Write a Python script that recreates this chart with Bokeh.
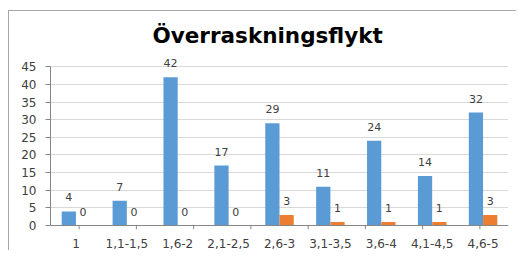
from bokeh.plotting import figure
from bokeh.models import (FactorRange, Range1d, LinearAxis, CategoricalAxis,
                          FixedTicker, ColumnDataSource, Grid, Span)
from bokeh.transform import dodge
from bokeh.core.properties import value
from bokeh.embed import file_html
from bokeh.resources import INLINE

title_text = "Överraskningsflykt"
categories = ["1", "1,1-1,5", "1,6-2", "2,1-2,5", "2,6-3", "3,1-3,5", "3,6-4", "4,1-4,5", "4,6-5"]
series_a = [4, 7, 42, 17, 29, 11, 24, 14, 32]
series_b = [0, 0, 0, 0, 3, 1, 1, 1, 3]
y_ticks = [0, 5, 10, 15, 20, 25, 30, 35, 40, 45]

BLUE = "#5B9BD5"
ORANGE = "#ED7D31"
TXT = "#404040"
AXIS = "#868686"
FONT = "DejaVu Sans"
Y_MIN = -1.13  # small strip below zero that holds the category tick marks

src = ColumnDataSource(dict(
    cat=categories, a=series_a, b=series_b,
    a_s=[str(v) for v in series_a], b_s=[str(v) for v in series_b],
))

# boundary positions between categories (one more than categories)
boundaries = ["b%d" % i for i in range(len(categories) + 1)]
bsrc = ColumnDataSource(dict(bnd=boundaries))

p = figure(
    x_range=FactorRange(*categories, range_padding=0),
    y_range=Range1d(Y_MIN, 49.6),
    frame_width=458, frame_height=179,
    min_border_left=41, min_border_right=8, min_border_top=39, min_border_bottom=4,
    x_axis_location=None, y_axis_location=None,
    output_backend="svg", toolbar_location=None,
    title=title_text,
)
# drop the default grids that figure() creates
p.xgrid.grid_line_color = None
p.ygrid.grid_line_color = None

p.extra_x_ranges = {"b": FactorRange(*boundaries, range_padding=-1.0,
                                     range_padding_units="absolute")}
p.styles = {"margin-left": "8px", "margin-top": "10px",
            "border-top": "1px solid #a6a6a6", "border-left": "1px solid #a6a6a6"}
p.outline_line_color = None
p.title.align = "left"
p.title.offset = 102
p.title.text_font = FONT
p.title.text_font_style = "bold"
p.title.text_font_size = "21.5px"
p.title.text_color = "#000000"
p.title.standoff = 5

yt = FixedTicker(ticks=y_ticks)
yaxis = LinearAxis(ticker=yt, bounds=(0, 45))
yaxis.axis_line_color = AXIS
yaxis.major_tick_line_color = AXIS
yaxis.major_tick_out = 5
yaxis.major_tick_in = 0
yaxis.minor_tick_line_color = None
yaxis.major_label_text_font = FONT
yaxis.major_label_text_font_size = "12px"
yaxis.major_label_text_color = TXT
yaxis.major_label_standoff = 9
p.add_layout(yaxis, "left")
p.add_layout(Grid(dimension=1, ticker=yt, grid_line_color="#d9d9d9", bounds=(0, 45)))

# short tick marks at the category boundaries, below the zero line
p.segment(x0="bnd", x1="bnd", y0=0, y1=Y_MIN, source=bsrc, x_range_name="b",
          line_color=AXIS, line_width=1)
p.add_layout(Span(location=0, dimension="width", line_color=AXIS, line_width=1))

cat_axis = CategoricalAxis()
cat_axis.axis_line_color = None
cat_axis.major_tick_line_color = None
cat_axis.major_tick_out = 0
cat_axis.major_tick_in = 0
cat_axis.minor_tick_line_color = None
cat_axis.major_label_text_font = FONT
cat_axis.major_label_text_font_size = "12px"
cat_axis.major_label_text_color = TXT
cat_axis.major_label_standoff = 9
p.add_layout(cat_axis, "below")

p.vbar(x=dodge("cat", -0.14, range=p.x_range), top="a", bottom=0, width=0.28, source=src,
       fill_color=BLUE, line_color=None)
p.vbar(x=dodge("cat", 0.14, range=p.x_range), top="b", bottom=0, width=0.28, source=src,
       fill_color=ORANGE, line_color=None)

for col, lab, off in (("a", "a_s", -0.14), ("b", "b_s", 0.14)):
    p.text(x=dodge("cat", off, range=p.x_range), y=col, text=lab, source=src,
           text_align="center", text_baseline="alphabetic", y_offset=-14,
           text_font=value(FONT), text_font_size="11px", text_color=TXT)

open("out.html", "w").write(file_html(p, INLINE))
